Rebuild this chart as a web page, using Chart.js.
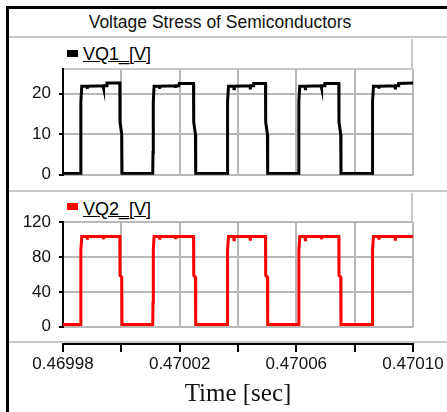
<!DOCTYPE html>
<html>
<head>
<meta charset="utf-8">
<script src="https://cdn.jsdelivr.net/npm/chart.js@4.4.1/dist/chart.umd.min.js"></script>
<style>
  body { margin: 0; width: 447px; height: 412px; overflow: hidden; background: #fff; position: relative; font-family: "Liberation Sans", Arial, sans-serif; }
  canvas, .abs { position: absolute; }
  #frame { left: 6px; top: 6px; width: 460px; height: 420px; border-left: 3px solid #000; border-top: 3px solid #000; }
  #title { left: 9px; top: 11px; width: 422px; text-align: center; font-size: 17.5px; line-height: 22px; color: #111; }
  .sep { left: 9px; width: 440px; height: 0; border-top: 2px solid #c8c8c8; }
  .legbox { border-right: 2px solid #c8c8c8; }
  .mark { width: 11px; height: 7px; }
  .legtext { font-size: 18px; line-height: 18px; color: #000; text-decoration: underline; }
</style>
</head>
<body>
<div id="frame" class="abs"></div>
<div id="title" class="abs">Voltage Stress of Semiconductors</div>
<div class="abs sep" style="top:36px"></div>
<div class="abs sep" style="top:190px"></div>
<div class="abs sep" style="top:341px"></div>

<div class="abs legbox" style="left:63px; top:39px; width:348px; height:29px; border-bottom:2px solid #c8c8c8"></div>
<div class="abs mark" style="left:67px; top:50px; background:#000"></div>
<div class="abs legtext" style="left:83px; top:45px">VQ1_[V]</div>

<div class="abs legbox" style="left:63px; top:193px; width:348px; height:29px"></div>
<div class="abs mark" style="left:67px; top:203px; background:#ff0000"></div>
<div class="abs legtext" style="left:83px; top:200px">VQ2_[V]</div>

<canvas id="c1" width="447" height="142" style="left:0; top:51px"></canvas>
<canvas id="c2" width="447" height="141" style="left:0; top:204px"></canvas>
<canvas id="c3" width="447" height="82" style="left:0; top:330px"></canvas>

<script>
// time axis: samples are given in microseconds after T0 (seconds)
var T0 = 0.46998;
var timeUs = [
  0.00,
  5.97, 6.07, 6.17, 6.44, 8.23, 8.33, 8.43, 13.77, 13.87, 13.97, 14.91, 15.08, 19.48, 19.54, 20.13, 20.23,
  30.76, 30.86, 30.96, 31.23, 33.02, 33.12, 33.22, 38.56, 38.66, 38.76, 39.70, 39.87, 44.75, 44.81, 45.40, 45.50,
  56.27, 56.37, 56.47, 56.74, 58.53, 58.63, 58.73, 64.07, 64.17, 64.27, 65.21, 65.38, 69.43, 69.49, 70.08, 70.18,
  80.71, 80.81, 80.91, 81.18, 82.97, 83.07, 83.17, 88.51, 88.61, 88.71, 89.65, 89.82, 94.56, 94.62, 95.21, 95.31,
  105.98, 106.08, 106.18, 106.45, 108.24, 108.34, 108.44, 113.78, 113.88, 113.98, 114.92, 115.09, 120.00
];
var vq1 = [
  0.3,
  0.3, 5.5, 18, 21.8, 21.8, 21.2, 21.8, 21.9, 21.4, 21.9, 21.9, 22.6, 22.6, 13, 10, 0.3,
  0.3, 5.5, 18, 21.8, 21.8, 21.2, 21.8, 21.9, 21.4, 21.9, 21.9, 22.5, 22.5, 13, 10, 0.3,
  0.3, 5.5, 18, 21.8, 21.8, 21.2, 21.8, 21.9, 21.4, 21.9, 21.9, 22.5, 22.5, 13, 10, 0.3,
  0.3, 5.5, 18, 21.8, 21.8, 21.2, 21.8, 21.9, 21.4, 21.9, 21.9, 22.5, 22.5, 13, 10, 0.3,
  0.3, 5.5, 18, 21.8, 21.8, 21.2, 21.8, 21.9, 21.4, 21.9, 21.9, 22.5, 22.6
];
var vq2 = [
  2.5,
  2.5, 27, 88, 103.5, 103.5, 100, 103.5, 103.5, 100.5, 103.5, 103.5, 103.5, 103.5, 59, 57, 2.5,
  2.5, 27, 88, 103.5, 103.5, 100, 103.5, 103.5, 100.5, 103.5, 103.5, 103.5, 103.5, 59, 57, 2.5,
  2.5, 27, 88, 103.5, 103.5, 100, 103.5, 103.5, 100.5, 103.5, 103.5, 103.5, 103.5, 59, 57, 2.5,
  2.5, 27, 88, 103.5, 103.5, 100, 103.5, 103.5, 100.5, 103.5, 103.5, 103.5, 103.5, 59, 57, 2.5,
  2.5, 27, 88, 103.5, 103.5, 100, 103.5, 103.5, 100.5, 103.5, 103.5, 103.5, 103.5
];
var timeTicks = [0.46998, 0.47000, 0.47002, 0.47004, 0.47006, 0.47008, 0.47010];
var vq1Ticks = [0, 10, 20];
var vq2Ticks = [0, 40, 80, 120];

var gridGray = '#b8b8b8';
var tickFont = { family: '"Liberation Sans", Arial', size: 17 };

function points(vals) {
  return timeUs.map(function (u, i) { return { x: T0 + u * 1e-6, y: vals[i] }; });
}

// panel chart: one trace, time grid only, y axis on the left
function panel(id, vals, color, yMax, yTicks) {
  return new Chart(document.getElementById(id), {
    type: 'line',
    data: { datasets: [{ data: points(vals), borderColor: color, borderWidth: 3, pointRadius: 0, tension: 0, fill: false }] },
    options: {
      responsive: false,
      animation: false,
      layout: { padding: { top: 0, bottom: 0, right: 34, left: 0 } },
      plugins: { legend: { display: false }, tooltip: { enabled: false } },
      scales: {
        x: {
          type: 'linear', min: 0.46998, max: 0.4701,
          afterBuildTicks: function (s) { s.ticks = timeTicks.map(function (v) { return { value: v }; }); },
          afterFit: function (s) { s.height = 0; },
          ticks: { display: false },
          border: { display: false },
          grid: { drawTicks: false, lineWidth: 2, color: function (c) { return c.index === 0 ? 'rgba(0,0,0,0)' : gridGray; } }
        },
        y: {
          min: 0, max: yMax,
          afterBuildTicks: function (s) { s.ticks = yTicks.map(function (v) { return { value: v }; }); },
          afterFit: function (s) { s.width = 63; },
          ticks: { color: '#111', font: tickFont, padding: 8 },
          border: { color: '#000', width: 2 },
          grid: { color: gridGray, lineWidth: 2, tickColor: '#000', tickLength: 4 }
        }
      }
    }
  });
}

panel('c1', vq1, '#000000', 26, vq1Ticks);
panel('c2', vq2, '#ff0000', 120, vq2Ticks);

// shared time axis under both panels
new Chart(document.getElementById('c3'), {
  type: 'line',
  data: { datasets: [] },
  options: {
    responsive: false,
    animation: false,
    layout: { padding: { top: 13, bottom: 0, left: 63, right: 34 } },
    plugins: { legend: { display: false }, tooltip: { enabled: false } },
    scales: {
      x: {
        type: 'linear', min: 0.46998, max: 0.4701,
        afterBuildTicks: function (s) { s.ticks = timeTicks.map(function (v) { return { value: v }; }); },
        afterFit: function (s) { s.height = 68; },
        ticks: {
          color: '#111', font: tickFont, padding: 2, maxRotation: 0, autoSkip: false,
          callback: function (v, i) { return i % 2 === 0 ? v.toFixed(5) : ''; }
        },
        border: { color: '#000', width: 2 },
        grid: { drawOnChartArea: false, color: '#000', lineWidth: 2, tickLength: 8 },
        title: { display: true, text: 'Time [sec]', color: '#111', font: { family: '"Liberation Serif", "Times New Roman", serif', size: 25 }, padding: { top: 0, bottom: 3 } }
      },
      y: { display: false }
    }
  }
});
</script>
</body>
</html>
